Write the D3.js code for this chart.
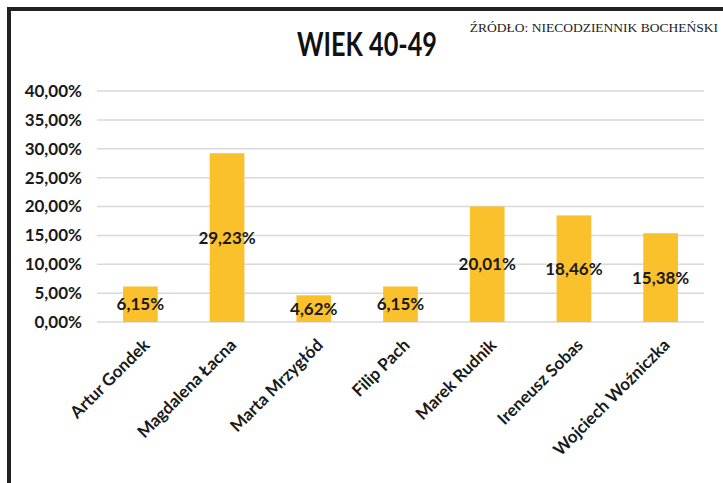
<!DOCTYPE html>
<html>
<head>
<meta charset="utf-8">
<script src="https://cdn.jsdelivr.net/npm/d3@7"></script>
<style>
  body { margin: 0; background: #fff; }
  svg { display: block; }
</style>
</head>
<body>
<div id="chart"></div>
<script>
// data
const names = ['Artur Gondek', 'Magdalena Łacna', 'Marta Mrzygłód', 'Filip Pach',
  'Marek Rudnik', 'Ireneusz Sobas', 'Wojciech Woźniczka']
const shares = [6.15, 29.23, 4.62, 6.15, 20.01, 18.46, 15.38]
const yTicks = [0, 5, 10, 15, 20, 25, 30, 35, 40]

const W = 723, H = 483
const fmt = v => v.toFixed(2).replace('.', ',') + '%'

var svg = d3.select('#chart').append('svg')
  .attr('width', W).attr('height', H)

// frame (top and left edges only are visible)
svg.append('path')
  .attr('d', `M9,${H} V9 H${W}`)
  .attr('fill', 'none').attr('stroke', '#222').attr('stroke-width', 4)

var x = d3.scaleBand().domain(names).range([97, 704]).paddingInner(0.6).paddingOuter(0.3)
var y = d3.scaleLinear().domain([0, 40]).range([322, 91])

// gridlines
svg.append('g').selectAll('line')
  .data(yTicks).enter().append('line')
  .attr('x1', 97).attr('x2', 704)
  .attr('y1', d => y(d)).attr('y2', d => y(d))
  .attr('stroke', '#d9d9d9').attr('stroke-width', 1.5)

// y axis labels
var yAxis = d3.axisLeft(y).tickValues(yTicks).tickFormat(fmt).tickSize(0).tickPadding(0)
var gy = svg.append('g').attr('transform', 'translate(82,0)').call(yAxis)
gy.select('.domain').remove()
gy.selectAll('text')
  .attr('font-family', 'Lato, sans-serif').attr('font-weight', 'bold')
  .attr('font-size', 17).attr('fill', '#1a1a1a')

// bars
svg.append('g').selectAll('rect')
  .data(shares).enter().append('rect')
  .attr('x', (d, i) => x(names[i]))
  .attr('width', x.bandwidth())
  .attr('y', d => y(d))
  .attr('height', d => y(0) - y(d))
  .attr('fill', '#fbc12d')

// value labels, centred in the bar
svg.append('g').selectAll('text')
  .data(shares).enter().append('text')
  .attr('x', (d, i) => x(names[i]) + x.bandwidth() / 2)
  .attr('y', d => (y(d) + y(0)) / 2)
  .attr('dy', '0.35em')
  .attr('text-anchor', 'middle')
  .attr('font-family', 'Lato, sans-serif').attr('font-weight', 'bold')
  .attr('font-size', 17).attr('fill', '#1a1a1a')
  .text(fmt)

// category labels, rotated
var xAxis = d3.axisBottom(x).tickSize(0).tickPadding(0)
var gx = svg.append('g').attr('transform', 'translate(0,322)').call(xAxis)
gx.select('.domain').remove()
gx.selectAll('text')
  .attr('font-family', 'Lato, sans-serif').attr('font-weight', 'bold')
  .attr('font-size', 17).attr('fill', '#1a1a1a')
  .attr('text-anchor', 'end')
  .attr('dy', '0.35em').attr('y', 0)
  .attr('transform', 'translate(6,20) rotate(-45)')

// title
svg.append('text')
  .attr('x', 367).attr('y', 56)
  .attr('text-anchor', 'middle')
  .attr('font-family', 'Lato, sans-serif').attr('font-weight', 'bold')
  .attr('font-size', 32).attr('fill', '#111')
  .attr('textLength', 140).attr('lengthAdjust', 'spacingAndGlyphs')
  .text('WIEK 40-49')

// source note
svg.append('text')
  .attr('x', 718).attr('y', 32)
  .attr('text-anchor', 'end')
  .attr('font-family', '"Liberation Serif", serif')
  .attr('font-size', 13.5).attr('fill', '#222')
  .text('ŹRÓDŁO: NIECODZIENNIK BOCHEŃSKI')
</script>
</body>
</html>
